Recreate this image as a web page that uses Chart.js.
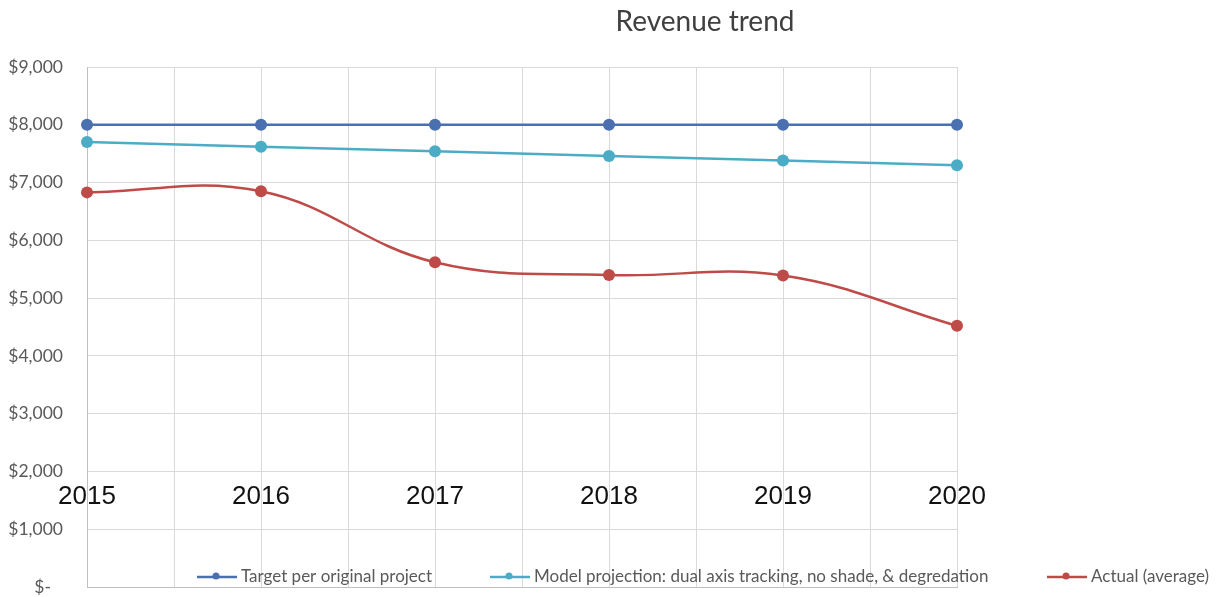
<!DOCTYPE html>
<html>
<head>
<meta charset="utf-8">
<script src="https://cdn.jsdelivr.net/npm/chart.js@4/dist/chart.umd.min.js"></script>
<style>
html,body{margin:0;padding:0;background:#fff;}
#wrap{width:1216px;height:597px;position:relative;}
</style>
</head>
<body>
<div id="wrap"><canvas id="c" width="1216" height="597"></canvas></div>
<script>
const years = [2015, 2016, 2017, 2018, 2019, 2020];
const yearLabels = ["2015", "2016", "2017", "2018", "2019", "2020"];
const targetValues = [8000, 8000, 8000, 8000, 8000, 8000];
const modelValues = [7700, 7620, 7540, 7460, 7380, 7300];
const actualValues = [6830, 6850, 5620, 5400, 5390, 4520];
const seriesNames = ["Target per original project", "Model projection: dual axis tracking, no shade, & degredation", "Actual (average)"];
const yTicks = [0, 1000, 2000, 3000, 4000, 5000, 6000, 7000, 8000, 9000];
const titleText = "Revenue trend";

const colors = ["#4A70B0", "#4BACC6", "#BE4B48"];
const toPts = v => years.map((y, i) => ({x: y, y: v[i]}));
const fmtY = v => v === 0 ? '$-' : '$' + v.toLocaleString('en-US');

const overlayPlugin = {
  id: 'overlay',
  afterDraw(chart) {
    const ctx = chart.ctx;
    const xs = chart.scales.x, ys = chart.scales.y;
    ctx.save();
    ctx.font = '28px Lato';
    ctx.fillStyle = '#404040';
    ctx.textAlign = 'center';
    ctx.textBaseline = 'middle';
    ctx.fillText(titleText, 705, 22);
    // y tick labels
    ctx.font = '17.5px Lato';
    ctx.fillStyle = '#595959';
    ctx.textAlign = 'right';
    yTicks.forEach(v => {
      ctx.fillText(fmtY(v), v === 0 ? 51 : 63, ys.getPixelForValue(v));
    });
    // year labels
    ctx.textAlign = 'center';
    ctx.font = '26px "Liberation Sans"';
    ctx.fillStyle = '#111';
    const yl = ys.getPixelForValue(1560);
    years.forEach((yr, i) => {
      ctx.fillText(yearLabels[i], xs.getPixelForValue(yr), yl);
    });
    const items = [197, 490, 1047];
    ctx.font = '17px Lato';
    ctx.textAlign = 'left';
    const ly = 577;
    chart.data.datasets.forEach((ds, i) => {
      const x0 = items[i];
      ctx.strokeStyle = ds.borderColor;
      ctx.lineWidth = 2.5;
      ctx.beginPath();
      ctx.moveTo(x0, ly); ctx.lineTo(x0 + 40, ly); ctx.stroke();
      ctx.fillStyle = ds.borderColor;
      ctx.beginPath();
      ctx.arc(x0 + 19, ly - 1, 3.5, 0, Math.PI * 2);
      ctx.fill();
      ctx.fillStyle = '#595959';
      ctx.fillText(ds.label, x0 + 44, ly);
    });
    ctx.restore();
  }
};

new Chart(document.getElementById('c'), {
  type: 'line',
  data: {
    datasets: [
      {label: seriesNames[0], data: toPts(targetValues), borderColor: colors[0], backgroundColor: colors[0], tension: 0},
      {label: seriesNames[1], data: toPts(modelValues), borderColor: colors[1], backgroundColor: colors[1], tension: 0},
      {label: seriesNames[2], data: toPts(actualValues), borderColor: colors[2], backgroundColor: colors[2], tension: 0.4}
    ]
  },
  options: {
    responsive: false,
    animation: false,
    datasets: {line: {borderWidth: 2.5, pointRadius: 6, pointHoverRadius: 6, clip: false, pointBorderWidth: 0}},
    layout: {padding: {top: 67, right: 259, bottom: 10, left: 87}},
    plugins: {legend: {display: false}, title: {display: false}, tooltip: {enabled: false}},
    scales: {
      x: {
        type: 'linear', min: 2015, max: 2020,
        ticks: {display: false, stepSize: 0.5},
        grid: {color: '#D9D9D9', drawTicks: false},
        border: {color: '#BFBFBF'}
      },
      y: {
        min: 0, max: 9000,
        afterBuildTicks: s => { s.ticks = yTicks.map(v => ({value: v})); },
        ticks: {display: false},
        grid: {color: '#D9D9D9', drawTicks: false},
        border: {color: '#BFBFBF'}
      }
    }
  },
  plugins: [overlayPlugin]
});
</script>
</body>
</html>
